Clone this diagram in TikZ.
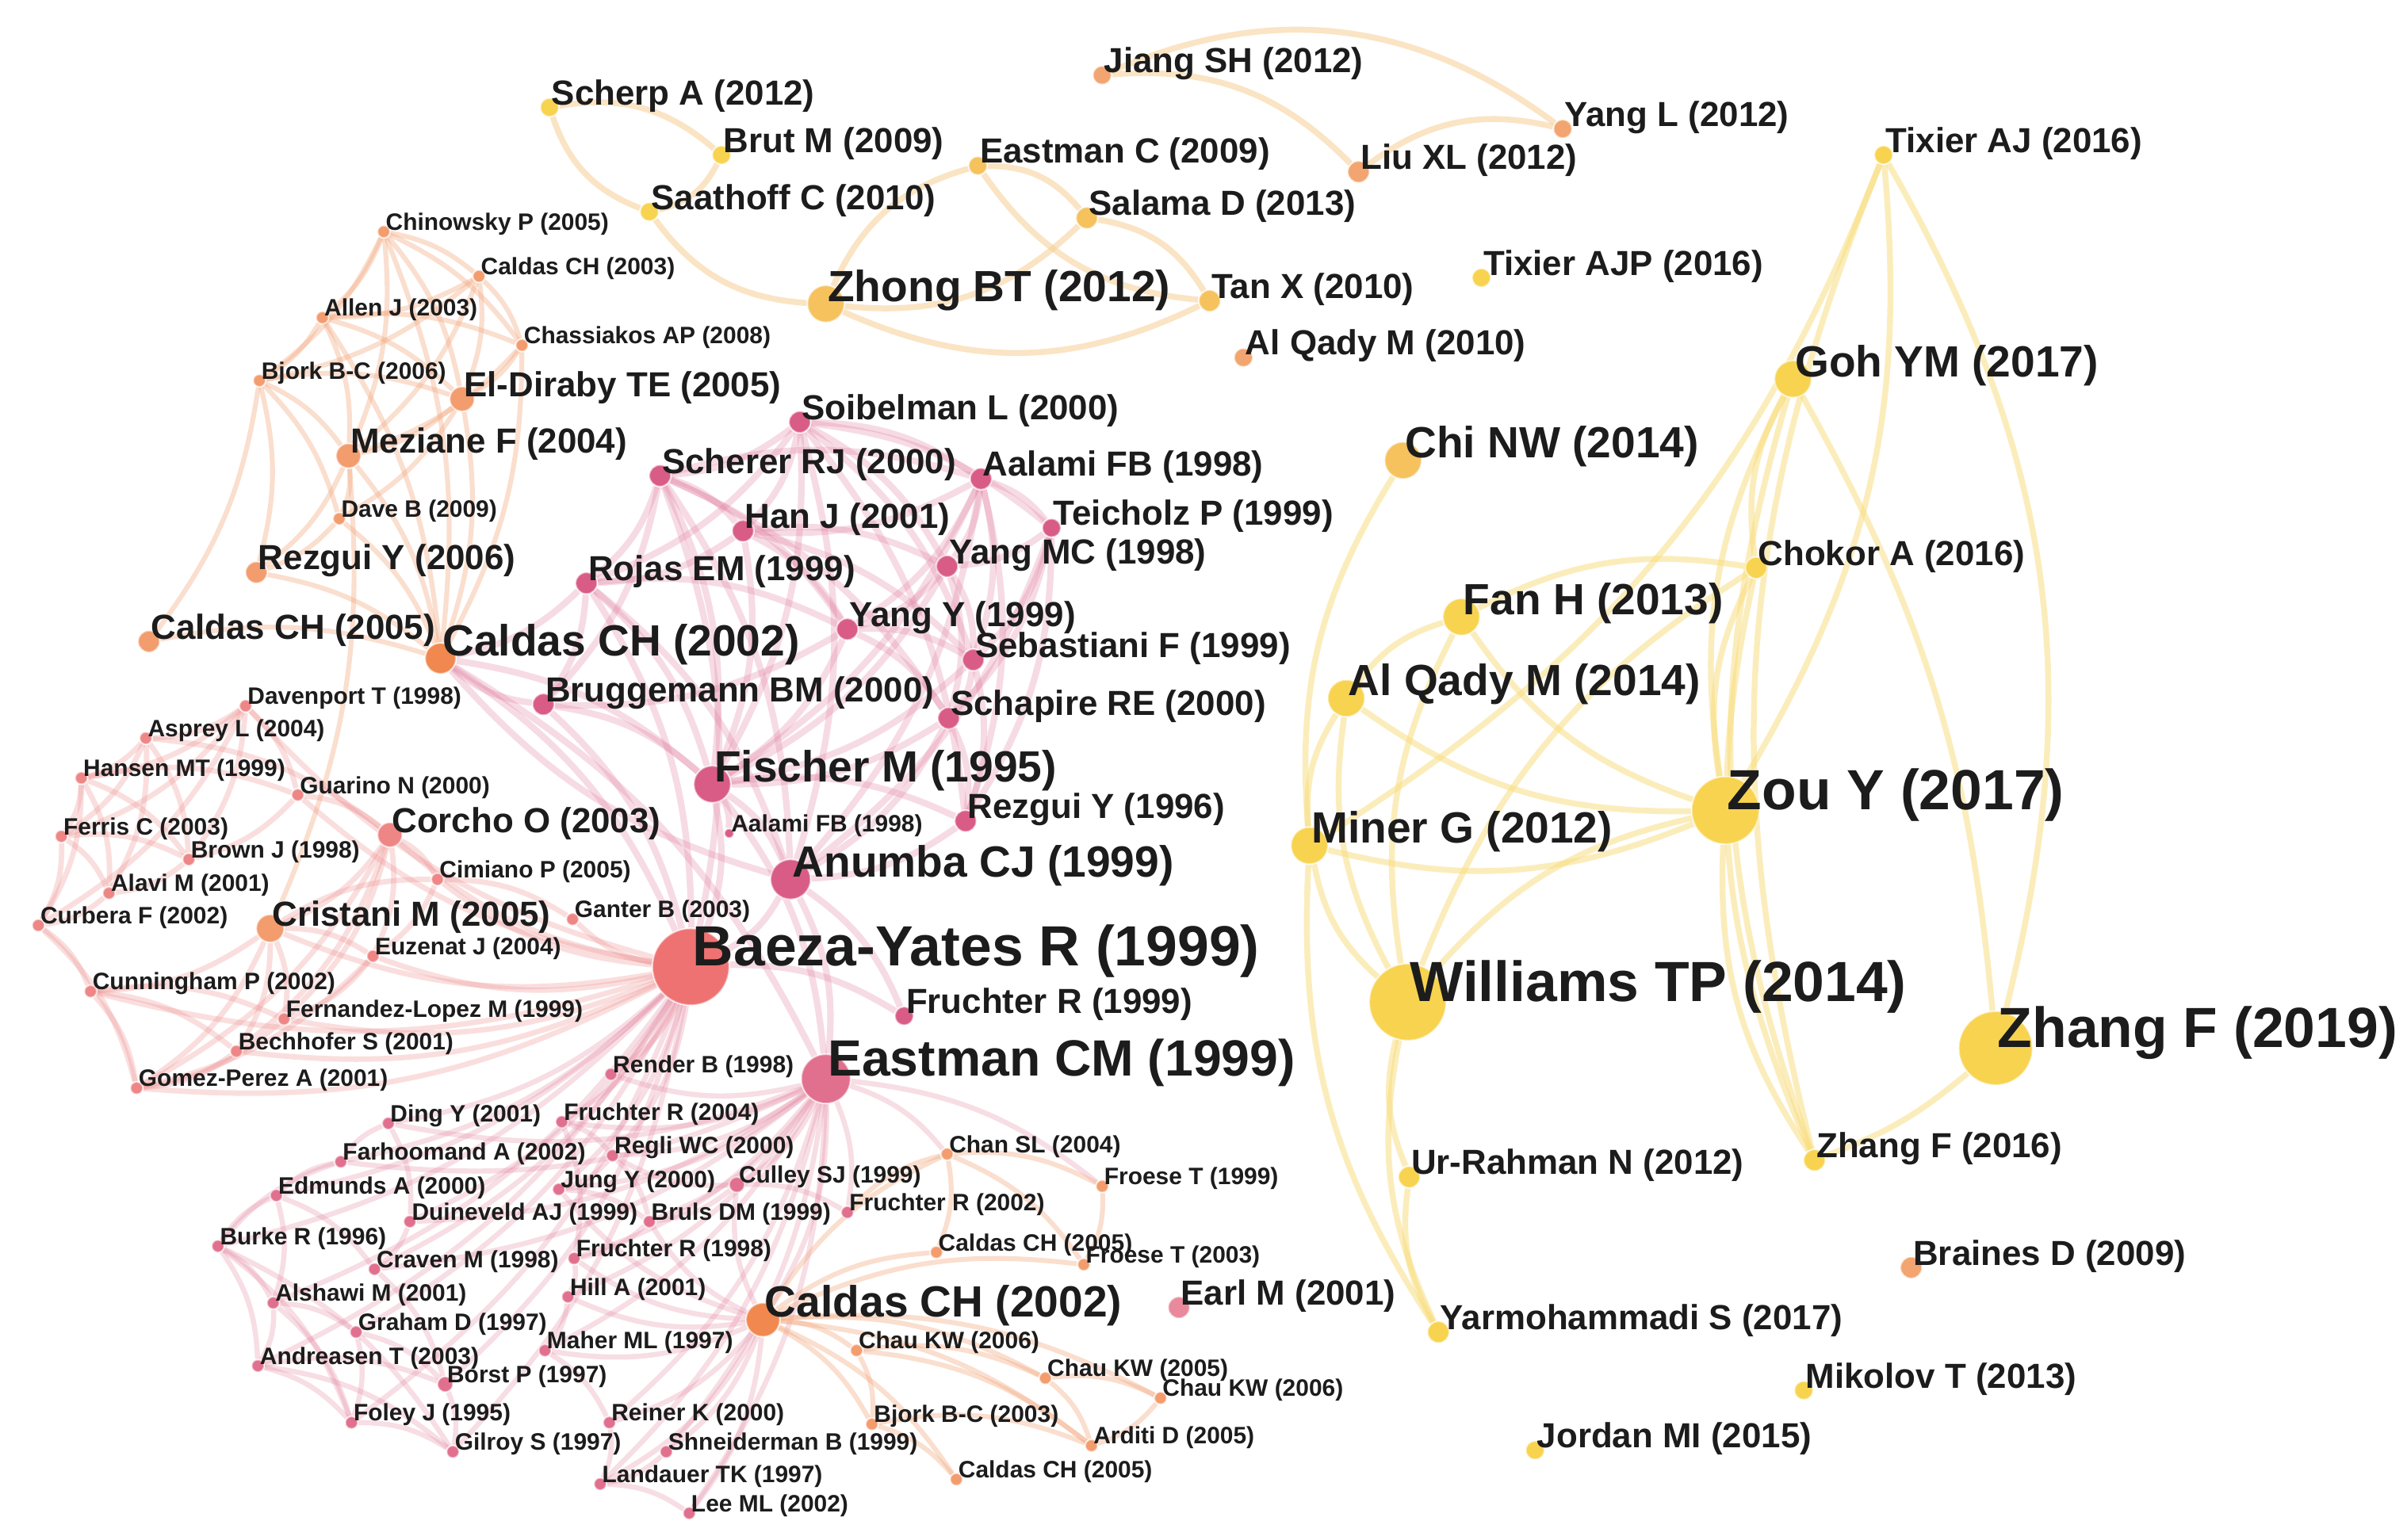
\documentclass[tikz,border=0pt]{standalone}
\usepackage{fontspec}
\setmainfont{Liberation Sans}
\pgfdeclarelayer{bg}
\pgfdeclarelayer{edges}
\pgfsetlayers{bg,edges,main}
\definecolor{cPk}{HTML}{D95C86}
\definecolor{cRd}{HTML}{EF7272}
\definecolor{cRd2}{HTML}{EE8686}
\definecolor{cRp}{HTML}{E0708E}
\definecolor{cOr}{HTML}{F39C6E}
\definecolor{cOr2}{HTML}{F0884F}
\definecolor{cYl}{HTML}{F8D34F}
\definecolor{cYo}{HTML}{F6C25E}
\definecolor{cLo}{HTML}{F2A570}
\definecolor{cEa}{HTML}{E88A9C}
\definecolor{ePk}{HTML}{E07C9E}
\definecolor{eRd}{HTML}{EF9494}
\definecolor{eRp}{HTML}{E690A8}
\definecolor{eOr}{HTML}{F4AE86}
\definecolor{eYl}{HTML}{F9DD78}
\definecolor{eYo}{HTML}{F6CF94}
\definecolor{tx}{HTML}{1C1C1C}
\tikzset{
  vnd/.style={circle, inner sep=0pt, draw=white, draw opacity=0.5, line width=0.6pt},
  lS/.style={anchor=west, inner sep=0pt, text=tx, font=\fontsize{8.8}{10}\selectfont\bfseries, yshift=0.1cm, xshift=0.02cm},
  lM/.style={anchor=west, inner sep=0pt, text=tx, font=\fontsize{12.9}{14}\selectfont\bfseries, yshift=0.15cm, xshift=0.02cm},
  lML/.style={anchor=west, inner sep=0pt, text=tx, font=\fontsize{16.2}{18}\selectfont\bfseries, yshift=0.18cm, xshift=0.02cm},
  lL/.style={anchor=west, inner sep=0pt, text=tx, font=\fontsize{18.9}{21}\selectfont\bfseries, yshift=0.21cm, xshift=0.02cm},
  lH/.style={anchor=west, inner sep=0pt, text=tx, font=\fontsize{21}{24}\selectfont\bfseries, yshift=0.2cm, xshift=0.02cm},
  pe/.style={draw=ePk, line width=2.4pt, opacity=0.27},
  re/.style={draw=eRd, line width=2pt, opacity=0.3},
  rpe/.style={draw=eRp, line width=1.9pt, opacity=0.3},
  oe/.style={draw=eOr, line width=1.8pt, opacity=0.4},
  ye/.style={draw=eYl, line width=2.2pt, opacity=0.5},
  te/.style={draw=eYo, line width=2.2pt, opacity=0.55}
}
\newcommand{\vn}[6]{\node[vnd,fill=#2,minimum size={#3*0.04cm}] (#1) at (#4) {};
  \node[#5] (#1l) at (#1.center) {#6};}
\begin{document}
\begin{tikzpicture}[x=0.02cm,y=-0.02cm]
\begin{pgfonlayer}{bg}
\fill[white] (0,0) rectangle (1568,1003);
\end{pgfonlayer}
\useasboundingbox (0,0) rectangle (1568,1003);
% ---------- top group
\vn{scherpA}{cYl}{6}{358,70}{lM}{Scherp A (2012)}
\vn{brutM}{cYl}{6}{470,101}{lM}{Brut M (2009)}
\vn{saathoffC}{cYl}{6}{423,138}{lM}{Saathoff C (2010)}
\vn{eastmanC}{cYo}{6}{637,108}{lM}{Eastman C (2009)}
\vn{salamaD}{cYo}{7}{708,142}{lM}{Salama D (2013)}
\vn{zhongBT}{cYo}{12}{538,198}{lML}{Zhong BT (2012)}
\vn{tanX}{cYo}{7}{788,196}{lM}{Tan X (2010)}
\vn{alqadyA}{cLo}{6}{810,233}{lM}{Al Qady M (2010)}
\vn{jiangSH}{cLo}{6}{718,49}{lM}{Jiang SH (2012)}
\vn{yangL}{cLo}{6}{1018,84}{lM}{Yang L (2012)}
\vn{liuXL}{cLo}{7}{885,112}{lM}{Liu XL (2012)}
% ---------- yellow cluster
\vn{tixierAJP}{cYl}{6}{965,181}{lM}{Tixier AJP (2016)}
\vn{tixierAJ}{cYl}{6}{1227,101}{lM}{Tixier AJ (2016)}
\vn{gohYM}{cYl}{12}{1168,247}{lML}{Goh YM (2017)}
\vn{chiNW}{cYo}{12}{914,300}{lML}{Chi NW (2014)}
\vn{chokorA}{cYl}{7}{1144,370}{lM}{Chokor A (2016)}
\vn{fanH}{cYl}{12}{952,402}{lML}{Fan H (2013)}
\vn{alqadyB}{cYl}{12}{877,455}{lML}{Al Qady M (2014)}
\vn{zouY}{cYl}{22}{1124,528}{lH}{Zou Y (2017)}
\vn{minerG}{cYl}{12}{853,551}{lML}{Miner G (2012)}
\vn{williamsTP}{cYl}{25}{917,653}{lH}{Williams TP (2014)}
\vn{zhangFA}{cYl}{24}{1300,683}{lH}{Zhang F (2019)}
\vn{zhangFB}{cYl}{7}{1182,756}{lM}{Zhang F (2016)}
\vn{urRahman}{cYl}{7}{918,767}{lM}{Ur-Rahman N (2012)}
\vn{braines}{cLo}{7}{1245,826}{lM}{Braines D (2009)}
\vn{yarmo}{cYl}{7}{937,868}{lM}{Yarmohammadi S (2017)}
\vn{mikolov}{cYl}{6}{1175,906}{lM}{Mikolov T (2013)}
\vn{jordan}{cYl}{6}{1000,945}{lM}{Jordan MI (2015)}
% ---------- top-left orange cluster
\vn{chinowsky}{cOr}{4}{250,151}{lS}{Chinowsky P (2005)}
\vn{caldasC}{cOr}{4}{312,180}{lS}{Caldas CH (2003)}
\vn{allenJ}{cOr}{4}{210,207}{lS}{Allen J (2003)}
\vn{chassiakos}{cOr}{4}{340,225}{lS}{Chassiakos AP (2008)}
\vn{bjorkA}{cOr}{4}{169,248}{lS}{Bjork B-C (2006)}
\vn{elDiraby}{cOr}{8}{301,260}{lM}{El-Diraby TE (2005)}
\vn{meziane}{cOr}{8}{227,297}{lM}{Meziane F (2004)}
\vn{daveB}{cOr}{4}{221,338}{lS}{Dave B (2009)}
\vn{rezguiA}{cOr}{7}{167,373}{lM}{Rezgui Y (2006)}
\vn{caldasL}{cOr}{7}{97,418}{lM}{Caldas CH (2005)}
\vn{caldasU}{cOr2}{10}{287,429}{lML}{Caldas CH (2002)}
% ---------- pink cluster
\vn{soibelman}{cPk}{7}{521,275}{lM}{Soibelman L (2000)}
\vn{scherer}{cPk}{7}{430,310}{lM}{Scherer RJ (2000)}
\vn{aalamiA}{cPk}{7}{639,312}{lM}{Aalami FB (1998)}
\vn{hanJ}{cPk}{7}{484,346}{lM}{Han J (2001)}
\vn{teicholz}{cPk}{6}{685,344}{lM}{Teicholz P (1999)}
\vn{yangMC}{cPk}{7}{617,369}{lM}{Yang MC (1998)}
\vn{rojas}{cPk}{7}{382,380}{lM}{Rojas EM (1999)}
\vn{yangY}{cPk}{7}{552,410}{lM}{Yang Y (1999)}
\vn{sebastiani}{cPk}{7}{634,430}{lM}{Sebastiani F (1999)}
\vn{bruggemann}{cPk}{7}{354,459}{lM}{Bruggemann BM (2000)}
\vn{schapire}{cPk}{7}{618,468}{lM}{Schapire RE (2000)}
\vn{fischer}{cPk}{12}{464,511}{lML}{Fischer M (1995)}
\vn{rezguiB}{cPk}{7}{629,535}{lM}{Rezgui Y (1996)}
\vn{aalamiB}{cPk}{3}{475,543}{lS}{Aalami FB (1998)}
\vn{anumba}{cPk}{13}{515,573}{lML}{Anumba CJ (1999)}
\vn{fruchterA}{cPk}{6}{589,662}{lM}{Fruchter R (1999)}
\vn{baeza}{cRd}{25}{450,630}{lH}{Baeza-Yates R (1999)}
\vn{eastmanCM}{cRp}{16}{538,703}{lL}{Eastman CM (1999)}
% ---------- red cluster
\vn{davenport}{cRd2}{4}{160,460}{lS}{Davenport T (1998)}
\vn{asprey}{cRd2}{4}{95,481}{lS}{Asprey L (2004)}
\vn{hansen}{cRd2}{4}{53,507}{lS}{Hansen MT (1999)}
\vn{guarino}{cRd2}{4}{194,518}{lS}{Guarino N (2000)}
\vn{corcho}{cRd2}{8}{254,544}{lM}{Corcho O (2003)}
\vn{ferris}{cRd2}{4}{40,545}{lS}{Ferris C (2003)}
\vn{brownJ}{cRd2}{4}{123,560}{lS}{Brown J (1998)}
\vn{cimiano}{cRd2}{4}{285,573}{lS}{Cimiano P (2005)}
\vn{alavi}{cRd2}{4}{71,582}{lS}{Alavi M (2001)}
\vn{curbera}{cRd2}{4}{25,603}{lS}{Curbera F (2002)}
\vn{cristani}{cOr}{9}{176,605}{lM}{Cristani M (2005)}
\vn{ganter}{cRd2}{4}{373,599}{lS}{Ganter B (2003)}
\vn{euzenat}{cRd2}{4}{243,623}{lS}{Euzenat J (2004)}
\vn{cunningham}{cRd2}{4}{59,646}{lS}{Cunningham P (2002)}
\vn{fernandez}{cRd2}{4}{185,664}{lS}{Fernandez-Lopez M (1999)}
\vn{bechhofer}{cRd2}{4}{154,685}{lS}{Bechhofer S (2001)}
\vn{gomez}{cRd2}{4}{89,709}{lS}{Gomez-Perez A (2001)}
\vn{render}{cRp}{4}{398,700}{lS}{Render B (1998)}
% ---------- bottom-left cluster
\vn{dingY}{cRp}{4}{253,732}{lS}{Ding Y (2001)}
\vn{fruchterB}{cRp}{4}{366,731}{lS}{Fruchter R (2004)}
\vn{farhoomand}{cRp}{4}{222,757}{lS}{Farhoomand A (2002)}
\vn{regli}{cRp}{4}{399,753}{lS}{Regli WC (2000)}
\vn{edmunds}{cRp}{4}{180,779}{lS}{Edmunds A (2000)}
\vn{jungY}{cRp}{4}{364,775}{lS}{Jung Y (2000)}
\vn{culley}{cRp}{5}{480,772}{lS}{Culley SJ (1999)}
\vn{duineveld}{cRp}{4}{267,796}{lS}{Duineveld AJ (1999)}
\vn{bruls}{cRp}{4}{423,796}{lS}{Bruls DM (1999)}
\vn{burke}{cRp}{4}{142,812}{lS}{Burke R (1996)}
\vn{craven}{cRp}{4}{244,827}{lS}{Craven M (1998)}
\vn{fruchterC}{cRp}{4}{374,820}{lS}{Fruchter R (1998)}
\vn{alshawi}{cRp}{4}{178,849}{lS}{Alshawi M (2001)}
\vn{hillA}{cRp}{4}{370,845}{lS}{Hill A (2001)}
\vn{graham}{cRp}{4}{232,868}{lS}{Graham D (1997)}
\vn{maher}{cRp}{4}{355,880}{lS}{Maher ML (1997)}
\vn{andreasen}{cRp}{4}{168,890}{lS}{Andreasen T (2003)}
\vn{borst}{cRp}{5}{290,902}{lS}{Borst P (1997)}
\vn{foley}{cRp}{4}{229,927}{lS}{Foley J (1995)}
\vn{reiner}{cRp}{4}{397,927}{lS}{Reiner K (2000)}
\vn{gilroy}{cRp}{4}{295,946}{lS}{Gilroy S (1997)}
\vn{shneiderman}{cRp}{4}{434,946}{lS}{Shneiderman B (1999)}
\vn{landauer}{cRp}{4}{391,967}{lS}{Landauer TK (1997)}
\vn{leeML}{cRp}{4}{449,986}{lS}{Lee ML (2002)}
% ---------- bottom orange cluster
\vn{fruchterD}{cRp}{4}{552,790}{lS}{Fruchter R (2002)}
\vn{chanSL}{cOr}{4}{617,752}{lS}{Chan SL (2004)}
\vn{froeseA}{cOr}{4}{718,773}{lS}{Froese T (1999)}
\vn{caldasA}{cOr}{4}{610,816}{lS}{Caldas CH (2005)}
\vn{froeseB}{cOr}{4}{706,824}{lS}{Froese T (2003)}
\vn{caldasD}{cOr2}{11}{497,860}{lML}{Caldas CH (2002)}
\vn{earlM}{cEa}{7}{768,852}{lM}{Earl M (2001)}
\vn{chauA}{cOr}{4}{558,880}{lS}{Chau KW (2006)}
\vn{chauB}{cOr}{4}{681,898}{lS}{Chau KW (2005)}
\vn{chauC}{cOr}{4}{756,911}{lS}{Chau KW (2006)}
\vn{bjorkB}{cOr}{4}{568,928}{lS}{Bjork B-C (2003)}
\vn{arditi}{cOr}{4}{711,942}{lS}{Arditi D (2005)}
\vn{caldasB}{cOr}{4}{623,964}{lS}{Caldas CH (2005)}
% ================= edges
\begin{pgfonlayer}{edges}
% top groups
\foreach \a/\b in {scherpA/saathoffC, brutM/scherpA, saathoffC/brutM, eastmanC/zhongBT, zhongBT/salamaD, salamaD/eastmanC, zhongBT/tanX, tanX/salamaD, eastmanC/tanX, saathoffC/zhongBT, liuXL/jiangSH, yangL/liuXL}
  \draw[te] (\a) to[bend right=25] (\b);
\draw[te] (jiangSH) to[bend left=30] (yangL);
% yellow cluster
\foreach \a/\b in {tixierAJ/zouY, tixierAJ/minerG, chokorA/gohYM, fanH/chokorA, alqadyB/fanH, minerG/alqadyB, zouY/minerG, williamsTP/minerG, zouY/fanH, zouY/chokorA, zouY/gohYM, williamsTP/alqadyB, williamsTP/fanH, yarmo/minerG, urRahman/williamsTP, yarmo/williamsTP, yarmo/urRahman, zhangFB/zouY, zhangFB/chokorA, zhangFB/gohYM, williamsTP/zouY, minerG/chiNW, zhangFB/tixierAJ, williamsTP/chokorA, zouY/alqadyB}
  \draw[ye] (\a) to[bend left=18] (\b);
\draw[ye] (tixierAJ) to[bend left=22] (zhangFA);
\draw[ye] (gohYM) to[bend left=12] (zhangFA);
\draw[ye] (zhangFB) to[bend right=10] (zhangFA);
% top-left orange cluster
\foreach \a/\b in {chinowsky/caldasC, chinowsky/allenJ, chinowsky/chassiakos, chinowsky/bjorkA, chinowsky/elDiraby, chinowsky/meziane, caldasC/allenJ, caldasC/chassiakos, caldasC/elDiraby, caldasC/meziane, caldasC/bjorkA, allenJ/bjorkA, allenJ/elDiraby, allenJ/meziane, allenJ/chassiakos, chassiakos/elDiraby, chassiakos/meziane, bjorkA/meziane, bjorkA/elDiraby, bjorkA/rezguiA, bjorkA/daveB, elDiraby/meziane, elDiraby/daveB, elDiraby/caldasU, meziane/daveB, meziane/rezguiA, meziane/caldasU, daveB/rezguiA, daveB/caldasU, rezguiA/caldasU, caldasL/caldasU, chinowsky/caldasU, chassiakos/caldasU, bjorkA/caldasL, meziane/cristani, allenJ/caldasU}
  \draw[oe] (\a) to[bend left=14] (\b);
% pink cluster
\foreach \a/\b in {soibelman/scherer, soibelman/aalamiA, soibelman/hanJ, soibelman/teicholz, soibelman/rojas, soibelman/fischer, soibelman/yangMC, soibelman/sebastiani, soibelman/anumba, scherer/aalamiA, scherer/hanJ, scherer/rojas, scherer/yangY, scherer/fischer, scherer/schapire, scherer/anumba, scherer/bruggemann, aalamiA/teicholz, aalamiA/yangMC, aalamiA/hanJ, aalamiA/fischer, aalamiA/sebastiani, aalamiA/rezguiB, aalamiA/yangY, hanJ/yangMC, hanJ/yangY, hanJ/rojas, hanJ/sebastiani, hanJ/fischer, teicholz/yangMC, teicholz/sebastiani, teicholz/schapire, teicholz/rezguiB, yangMC/yangY, yangMC/sebastiani, yangMC/schapire, yangMC/fischer, rojas/fischer, rojas/yangY, rojas/bruggemann, rojas/anumba, rojas/caldasU, yangY/sebastiani, yangY/schapire, yangY/fischer, yangY/bruggemann, sebastiani/schapire, sebastiani/fischer, sebastiani/rezguiB, schapire/fischer, schapire/rezguiB, schapire/anumba, fischer/anumba, fischer/rezguiB, fischer/baeza, fischer/eastmanCM, fischer/aalamiB, rezguiB/anumba, anumba/baeza, anumba/eastmanCM, anumba/fruchterA, anumba/caldasU, bruggemann/baeza, bruggemann/caldasU, bruggemann/fischer, caldasU/baeza, caldasU/fischer, caldasU/eastmanCM, baeza/fruchterA, soibelman/rezguiB, teicholz/anumba, aalamiA/anumba, scherer/baeza, rojas/baeza}
  \draw[pe] (\a) to[bend left=16] (\b);
% red cluster
\foreach \a/\b in {baeza/corcho, baeza/cristani, baeza/cimiano, baeza/ganter, baeza/euzenat, baeza/fernandez, baeza/bechhofer, baeza/gomez, baeza/cunningham, baeza/guarino, baeza/davenport, baeza/render, davenport/asprey, davenport/hansen, davenport/ferris, davenport/brownJ, davenport/guarino, asprey/hansen, asprey/ferris, asprey/alavi, hansen/ferris, hansen/brownJ, hansen/alavi, hansen/curbera, ferris/alavi, ferris/curbera, ferris/brownJ, brownJ/alavi, alavi/curbera, curbera/cunningham, guarino/corcho, guarino/brownJ, hansen/guarino, asprey/corcho, corcho/cristani, corcho/euzenat, corcho/fernandez, corcho/gomez, corcho/cimiano, corcho/bechhofer, cristani/euzenat, cristani/fernandez, cristani/bechhofer, cristani/gomez, cristani/cunningham, cristani/cimiano, euzenat/fernandez, euzenat/gomez, cimiano/ganter, cimiano/euzenat, fernandez/gomez, bechhofer/gomez, cunningham/gomez, cunningham/bechhofer, curbera/gomez, cunningham/fernandez, davenport/curbera, asprey/brownJ}
  \draw[re] (\a) to[bend left=16] (\b);
% bottom-left cluster
\foreach \a/\b in {baeza/dingY, baeza/fruchterB, baeza/farhoomand, baeza/regli, baeza/edmunds, baeza/jungY, baeza/duineveld, baeza/burke, baeza/craven, baeza/alshawi, baeza/graham, baeza/andreasen, baeza/foley, baeza/borst, baeza/gilroy, eastmanCM/fruchterB, eastmanCM/regli, eastmanCM/jungY, eastmanCM/culley, eastmanCM/bruls, eastmanCM/fruchterC, eastmanCM/hillA, eastmanCM/maher, eastmanCM/reiner, eastmanCM/shneiderman, eastmanCM/landauer, eastmanCM/leeML, eastmanCM/fruchterD, eastmanCM/render, eastmanCM/dingY, eastmanCM/farhoomand, eastmanCM/duineveld, eastmanCM/craven, burke/alshawi, burke/andreasen, burke/foley, burke/edmunds, burke/farhoomand, burke/gilroy, alshawi/andreasen, alshawi/graham, alshawi/foley, andreasen/foley, andreasen/gilroy, andreasen/borst, graham/borst, graham/foley, craven/borst, edmunds/farhoomand, edmunds/alshawi, farhoomand/dingY, duineveld/craven, borst/gilroy, foley/gilroy, dingY/duineveld, edmunds/craven, fruchterB/regli, regli/jungY, jungY/bruls, bruls/fruchterC, fruchterC/hillA, hillA/maher, maher/reiner, reiner/landauer, shneiderman/landauer, landauer/leeML, culley/bruls, fruchterB/fruchterC, regli/bruls, culley/fruchterD, culley/regli, caldasD/hillA, caldasD/maher, caldasD/fruchterC, caldasD/bruls, caldasD/culley, caldasD/reiner, caldasD/shneiderman, caldasD/landauer, caldasD/leeML, caldasD/jungY, eastmanCM/chanSL, eastmanCM/froeseA, eastmanCM/caldasD}
  \draw[rpe] (\a) to[bend left=16] (\b);
% bottom orange cluster
\foreach \a/\b in {caldasD/chauA, caldasD/chauB, caldasD/chauC, caldasD/bjorkB, caldasD/arditi, caldasD/caldasB, caldasD/caldasA, caldasD/chanSL, caldasD/froeseB, chauA/chauB, chauA/bjorkB, chauB/chauC, chauB/arditi, chauC/arditi, bjorkB/caldasB, bjorkB/arditi, chanSL/froeseA, chanSL/caldasA, chanSL/froeseB, fruchterD/chanSL, froeseA/froeseB, chauA/arditi}
  \draw[oe] (\a) to[bend left=16] (\b);
\end{pgfonlayer}
\end{tikzpicture}
\end{document}
